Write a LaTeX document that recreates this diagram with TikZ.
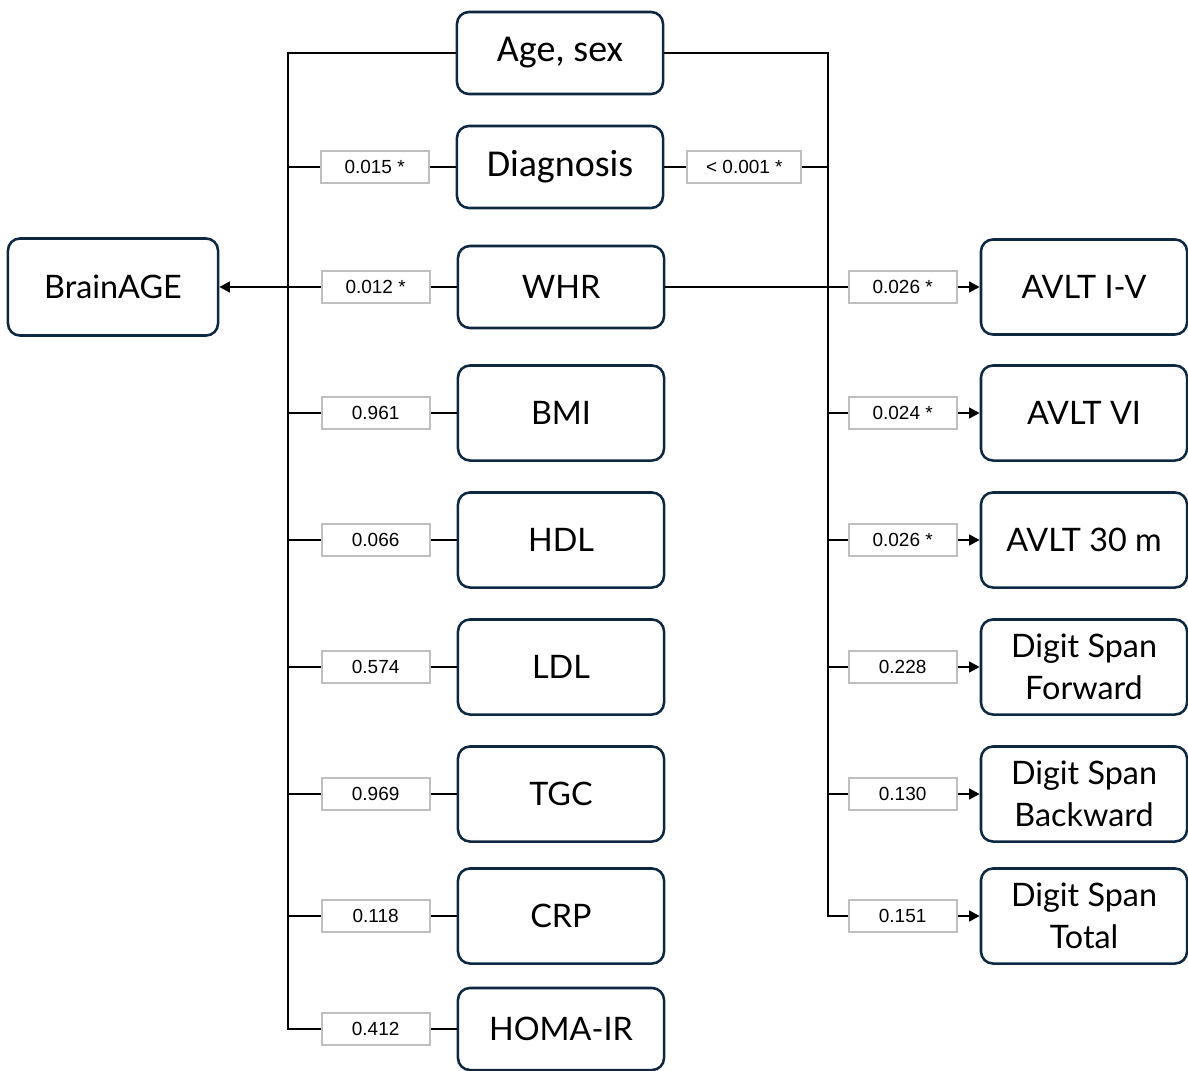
\documentclass[tikz,border=0pt]{standalone}
\usepackage{fontspec}
\setmainfont{Lato}
\newfontfamily\narrowfont{Carlito}
\newfontfamily\pvalfont{Liberation Sans}
\definecolor{BoxNavy}{HTML}{0E2841}
\definecolor{PGrey}{HTML}{BFBFBF}
\usetikzlibrary{positioning,arrows.meta}

\begin{document}
\begin{tikzpicture}[x=0.025cm, y=-0.025cm,
    var/.style={draw=BoxNavy, line width=1.8pt, fill=white, rounded corners=8.5pt,
      minimum width=5.15cm, minimum height=2.375cm, align=center, inner sep=0pt,
      font=\fontsize{23}{30}\selectfont},
    narrowvar/.style={var, minimum height=2.05cm, font=\narrowfont\fontsize{27}{30}\selectfont},
    pval/.style={draw=PGrey, line width=1.5pt, fill=white, minimum width=2.7cm,
      minimum height=0.78cm, inner sep=0pt, font=\pvalfont\fontsize{13.5}{15}\selectfont},
    link/.style={line width=1.7pt},
    arr/.style={link, -{Triangle[length=7.5pt, width=7.5pt]}}]

  \useasboundingbox (0,0) rectangle (1188,1070);

  % outcome on the left
  \node[var, minimum width=5.25cm, minimum height=2.425cm] (brain) at (113,287) {BrainAGE};

  % middle column
  \node[narrowvar] (agesex) at (560,53) {Age, sex};
  \node[narrowvar] (diag) at (560,167) {Diagnosis};
  \foreach \name/\y/\txt/\h in {whr/287/WHR/2.05, bmi/413/BMI/2.375, hdl/540/HDL/2.375,
      ldl/667/LDL/2.375, tgc/794/TGC/2.375, crp/916/CRP/2.375, homa/1029/HOMA-IR/2.05}
    \node[var, minimum height=\h cm] (\name) at (561,\y) {\txt};

  % right column
  \foreach \name/\y/\txt in {avlta/287/AVLT I-V, avltb/413/AVLT VI, avltc/540/AVLT 30 m,
      dsf/667/Digit Span\\Forward, dsb/794/Digit Span\\Backward, dst/916/Digit Span\\Total}
    \node[var] (\name) at (1084,\y) {\txt};

  % p-values, left side
  \foreach \name/\p in {diag/0.015 *, whr/0.012 *, bmi/0.961, hdl/0.066, ldl/0.574,
      tgc/0.969, crp/0.118, homa/0.412}
    \node[pval, left=0.65cm of \name] (l\name) {\p};

  % p-values, right side
  \node[pval, minimum width=2.85cm, right=0.55cm of diag] (rdiag) {< 0.001 *};
  \foreach \name/\p in {avlta/0.026 *, avltb/0.024 *, avltc/0.026 *, dsf/0.228,
      dsb/0.130, dst/0.151}
    \node[pval, left=0.55cm of \name] (r\name) {\p};

  % buses
  \coordinate (ltop) at (288,53);
  \coordinate (rtop) at (828,53);

  % left tree
  \draw[link] (agesex.west) -| (lhoma.west -| ltop) -- (lhoma.west);
  \foreach \name in {diag,bmi,hdl,ldl,tgc,crp}
    \draw[link] (l\name.west) -- (l\name.west -| ltop);
  \foreach \name in {diag,whr,bmi,hdl,ldl,tgc,crp,homa}
    \draw[link] (l\name) -- (\name);
  \draw[arr] (lwhr) -- (brain);

  % right tree
  \draw[link] (agesex.east) -| (rdst.west -| rtop) -- (rdst.west);
  \draw[link] (diag) -- (rdiag);
  \draw[link] (rdiag.east) -- (rdiag.east -| rtop);
  \draw[link] (whr.east) -- (ravlta.west);
  \foreach \name in {avltb,avltc,dsf,dsb}
    \draw[link] (r\name.west -| rtop) -- (r\name.west);
  \foreach \name in {avlta,avltb,avltc,dsf,dsb,dst}
    \draw[arr] (r\name) -- (\name);
\end{tikzpicture}
\end{document}
